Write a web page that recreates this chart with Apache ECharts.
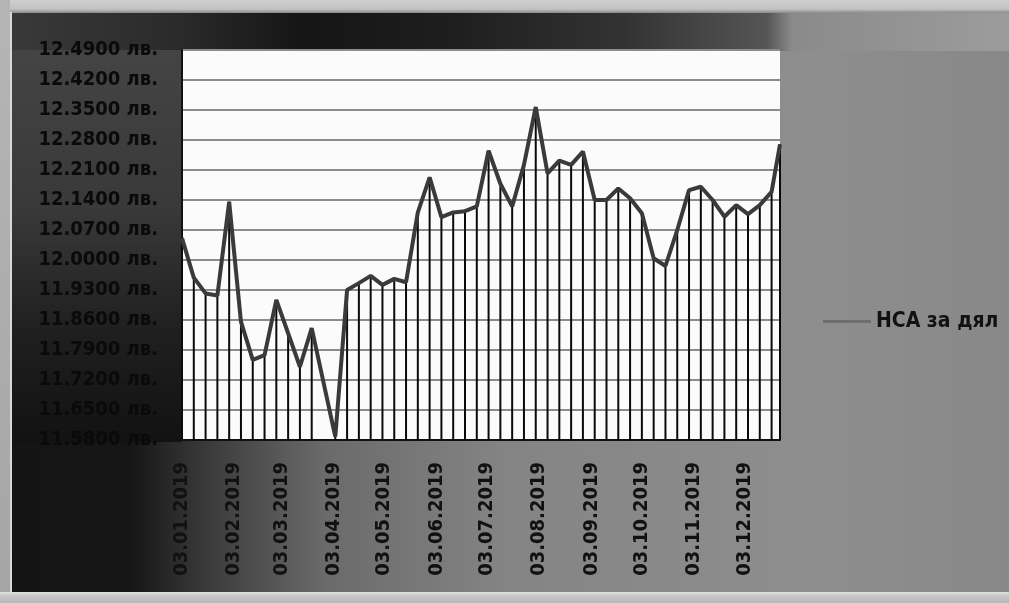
<!DOCTYPE html>
<html>
<head>
<meta charset="utf-8">
<script src="https://cdn.jsdelivr.net/npm/echarts@6/dist/echarts.min.js"></script>
<style>
html,body{margin:0;padding:0;background:#777;}
#chart{width:1009px;height:603px;}
</style>
</head>
<body>
<div id="chart"></div>
<script>
// ---- data ----
const seriesName = 'НСА за дял';
const dates = [
  '2019-01-03','2019-01-10','2019-01-17','2019-01-24','2019-01-31',
  '2019-02-07','2019-02-14','2019-02-21','2019-02-28','2019-03-07',
  '2019-03-14','2019-03-21','2019-04-04','2019-04-11','2019-04-18',
  '2019-04-25','2019-05-02','2019-05-09','2019-05-16','2019-05-23',
  '2019-05-30','2019-06-06','2019-06-13','2019-06-20','2019-06-27',
  '2019-07-04','2019-07-11','2019-07-18','2019-07-25','2019-08-01',
  '2019-08-08','2019-08-15','2019-08-22','2019-08-29','2019-09-05',
  '2019-09-12','2019-09-19','2019-09-26','2019-10-03','2019-10-10',
  '2019-10-17','2019-10-24','2019-10-31','2019-11-07','2019-11-14',
  '2019-11-21','2019-11-28','2019-12-05','2019-12-12','2019-12-19',
  '2019-12-24'
];
const values = [
  12.051, 11.959, 11.922, 11.917, 12.136,
  11.856, 11.767, 11.778, 11.907, 11.829,
  11.751, 11.841, 11.588, 11.930, 11.946,
  11.963, 11.942, 11.956, 11.948, 12.111,
  12.193, 12.100, 12.111, 12.114, 12.125,
  12.255, 12.178, 12.125, 12.222, 12.357,
  12.202, 12.232, 12.222, 12.253, 12.140,
  12.140, 12.167, 12.144, 12.109, 12.004,
  11.986, 12.070, 12.163, 12.171, 12.140,
  12.101, 12.128, 12.107, 12.128, 12.159,
  12.270
];
const yTicks = [11.58, 11.65, 11.72, 11.79, 11.86, 11.93, 12.00, 12.07, 12.14, 12.21, 12.28, 12.35, 12.42, 12.49];
const xTicks = [
  '2019-01-03','2019-02-03','2019-03-03','2019-04-03','2019-05-03','2019-06-03',
  '2019-07-03','2019-08-03','2019-09-03','2019-10-03','2019-11-03','2019-12-03'
];

// ---- helpers ----
function ts(s){ const p = s.split('-'); return new Date(+p[0], +p[1]-1, +p[2]).getTime(); }
function fmtDate(v){
  const d = new Date(v);
  const dd = String(d.getDate()).padStart(2,'0');
  const mm = String(d.getMonth()+1).padStart(2,'0');
  return dd + '.' + mm + '.' + d.getFullYear();
}
const points = dates.map((d,i) => [ts(d), values[i]]);

const chart = echarts.init(document.getElementById('chart'), null, {renderer:'canvas'});
const FONT = "'DejaVu Sans Condensed', 'DejaVu Sans', sans-serif";

function hgrad(stops){ return {type:'linear', x:0, y:0, x2:1, y2:0, colorStops: stops.map(s => ({offset:s[0], color:s[1]}))}; }
function vgrad(stops){ return {type:'linear', x:0, y:0, x2:0, y2:1, colorStops: stops.map(s => ({offset:s[0], color:s[1]}))}; }

chart.setOption({
  animation: false,
  backgroundColor: hgrad([[0,'#141414'],[0.13,'#161616'],[0.2,'#383838'],[0.32,'#6a6a6a'],[0.5,'#848484'],[0.8,'#8e8e8e'],[1,'#888888']]),
  graphic: [
    { type: 'rect', z: -1, shape: {x: 0, y: 12, width: 1009, height: 39},
      style: { fill: hgrad([[0,'#3a3a3a'],[0.18,'#2a2a2a'],[0.3,'#151515'],[0.45,'#1e1e1e'],[0.62,'#333'],[0.76,'#555'],[0.785,'#8a8a8a'],[1,'#9c9c9c']]) } },
    { type: 'rect', z: -1, shape: {x: 0, y: 50, width: 182, height: 392},
      style: { fill: vgrad([[0,'#444'],[0.4,'#393939'],[0.72,'#1f1f1f'],[1,'#121212']]) } },
    { type: 'rect', z: -1, shape: {x: 0, y: 0, width: 1009, height: 13},
      style: { fill: vgrad([[0,'#cfcfcf'],[0.7,'#c2c2c2'],[1,'#8a8a8a']]) } },
    { type: 'rect', z: -1, shape: {x: 0, y: 0, width: 10, height: 603},
      style: { fill: vgrad([[0,'#b5b5b5'],[1,'#a5a5a5']]) } },
    { type: 'rect', z: -1, shape: {x: 10, y: 12, width: 2, height: 581},
      style: { fill: '#d8d8d8' } },
    { type: 'rect', z: -1, shape: {x: 0, y: 592, width: 1009, height: 11},
      style: { fill: vgrad([[0,'#e2e2e2'],[0.3,'#c8c8c8'],[1,'#b8b8b8']]) } }
  ],
  grid: {
    left: 182, right: 229, top: 50, bottom: 163,
    show: true, backgroundColor: '#fbfbfb', borderWidth: 0
  },
  legend: {
    data: [{name: seriesName, icon: 'rect'}],
    orient: 'vertical',
    left: 818, top: 306,
    itemWidth: 48, itemHeight: 3,
    itemGap: 8,
    itemStyle: {color: '#6e6e6e'},
    textStyle: {color: '#111', fontFamily: FONT, fontWeight: 'bold', fontSize: 21}
  },
  xAxis: {
    type: 'value',
    z: 5,
    min: ts(dates[0]),
    max: ts(dates[dates.length-1]),
    axisLine: {show: true, lineStyle: {color: '#111', width: 2}},
    axisTick: {show: false, customValues: xTicks.map(ts)},
    splitLine: {show: false},
    axisLabel: {
      customValues: xTicks.map(ts),
      rotate: 90,
      margin: 22,
      color: '#111',
      fontFamily: FONT,
      fontWeight: 'bold',
      fontSize: 20,
      formatter: v => fmtDate(v)
    }
  },
  yAxis: {
    type: 'value',
    z: 5,
    min: yTicks[0],
    max: yTicks[yTicks.length-1],
    axisLine: {show: true, lineStyle: {color: '#111', width: 2}},
    axisTick: {show: false, customValues: yTicks},
    splitLine: {show: true, lineStyle: {color: '#8c8c8c', width: 2}},
    axisLabel: {
      customValues: yTicks,
      margin: 24,
      color: '#0a0a0a',
      fontFamily: FONT,
      fontWeight: 'bold',
      fontSize: 20,
      formatter: v => v.toFixed(4) + ' лв.'
    }
  },
  series: [
    {
      name: 'drop',
      type: 'bar',
      data: points,
      barWidth: 2,
      itemStyle: {color: '#0a0a0a'},
      silent: true,
      z: 8
    },
    {
      name: seriesName,
      type: 'line',
      data: points,
      symbol: 'none',
      itemStyle: {color: '#3a3a3a'},
      lineStyle: {color: '#3a3a3a', width: 4},
      z: 9
    }
  ]
});
</script>
</body>
</html>
